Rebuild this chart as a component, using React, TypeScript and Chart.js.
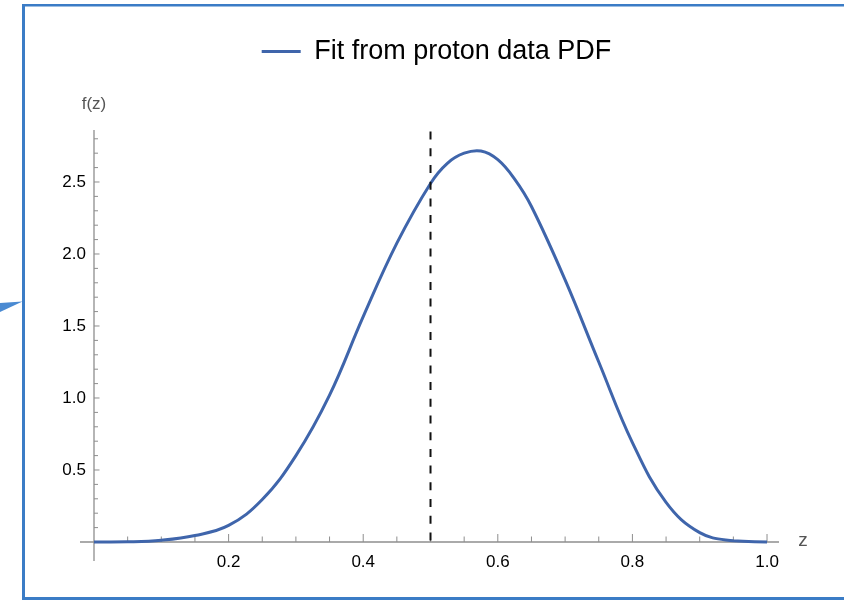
import React, { useEffect, useRef } from "react";
import { Chart, registerables } from "chart.js";

Chart.register(...registerables);

// ---- data ----
const zValues = [0, 0.05, 0.1, 0.15, 0.2, 0.25, 0.3, 0.35, 0.4, 0.45, 0.5, 0.525, 0.55, 0.575, 0.6, 0.625, 0.65, 0.7, 0.75, 0.8, 0.85, 0.9, 0.95, 1.0];
const fValues = [0, 0.001, 0.012, 0.045, 0.115, 0.295, 0.6, 1.02, 1.565, 2.075, 2.49, 2.63, 2.70, 2.715, 2.655, 2.52, 2.33, 1.82, 1.25, 0.69, 0.275, 0.065, 0.008, 0];
const markerZ = [0.5, 0.5];
const markerF = [2.85, 0];
const xTickStep = 0.2;
const xMinorStep = 0.05;
const xLastTick = 1.0;
const yTickStep = 0.5;
const yMinorStep = 0.1;
const yLastMinor = 2.8;
const xMax = 1.0178;
const yMax = 2.861;
const legendLabel = "Fit from proton data PDF";
const yAxisLabel = "f(z)";
const xAxisLabel = "z";

// ---- styles ----
const CURVE = "#3f65ab";
const FRAME = "#3b7cc6";
const AXIS = "#8e8e8e";
const FONT = "'Liberation Sans', Arial, Helvetica, sans-serif";

const isMultiple = (v: number, step: number) => Math.abs(v / step - Math.round(v / step)) < 1e-6;

const axesPlugin = {
  id: "mmaAxes",
  beforeDatasetsDraw(chart: any) {
    const { ctx } = chart;
    const xs = chart.scales.x;
    const ys = chart.scales.y;
    const x0 = xs.getPixelForValue(0);
    const y0 = ys.getPixelForValue(0);
    ctx.save();
    ctx.strokeStyle = AXIS;
    ctx.lineWidth = 1.3;
    ctx.beginPath();
    ctx.moveTo(x0 - 14, y0);
    ctx.lineTo(xs.right, y0);
    ctx.moveTo(x0, ys.top);
    ctx.lineTo(x0, y0 + 19);
    ctx.stroke();
    ctx.lineWidth = 1;
    ctx.beginPath();
    const nx = Math.round(xLastTick / xMinorStep);
    for (let i = 1; i <= nx; i++) {
      const v = i * xMinorStep;
      const major = isMultiple(v, xTickStep);
      const px = xs.getPixelForValue(v);
      ctx.moveTo(px, y0);
      ctx.lineTo(px, y0 - (major ? 8 : 5.5));
    }
    const ny = Math.round(yLastMinor / yMinorStep);
    for (let i = 1; i <= ny; i++) {
      const v = i * yMinorStep;
      const major = isMultiple(v, yTickStep);
      const py = ys.getPixelForValue(v);
      ctx.moveTo(x0, py);
      ctx.lineTo(x0 + (major ? 5.5 : 4), py);
    }
    ctx.stroke();
    ctx.fillStyle = "#555";
    ctx.font = `17px ${FONT}`;
    ctx.textAlign = "center";
    ctx.textBaseline = "middle";
    ctx.fillText(yAxisLabel, x0, ys.top - 26);
    ctx.font = `19px ${FONT}`;
    ctx.fillText(xAxisLabel, xs.right + 24, y0 - 1);
    ctx.restore();
  },
  afterDraw(chart: any) {
    const { ctx } = chart;
    ctx.save();
    ctx.fillStyle = FRAME;
    ctx.fillRect(22, 4, 830, 2.5);
    ctx.fillRect(22, 4, 3, 600);
    ctx.fillRect(22, 597, 830, 3);
    ctx.beginPath();
    ctx.moveTo(0, 303);
    ctx.lineTo(22.5, 301.5);
    ctx.lineTo(0, 312);
    ctx.closePath();
    ctx.fillStyle = "#4a8ad2";
    ctx.fill();
    ctx.restore();
  },
};

export default function App() {
  const ref = useRef<HTMLCanvasElement>(null);
  useEffect(() => {
    const curve = zValues.map((z, i) => ({ x: z, y: fValues[i] }));
    const marker = markerZ.map((z, i) => ({ x: z, y: markerF[i] }));
    const chart = new Chart(ref.current as HTMLCanvasElement, {
      type: "line",
      data: {
        datasets: [
          {
            label: legendLabel,
            data: curve,
            borderColor: CURVE,
            backgroundColor: CURVE,
            borderWidth: 3,
            pointRadius: 0,
            tension: 0.4,
            fill: false,
            clip: false as any,
            order: 1,
          },
          {
            label: "marker",
            data: marker,
            borderColor: "#111",
            backgroundColor: "#111",
            borderWidth: 2,
            borderDash: [8, 8.7],
            pointRadius: 0,
            tension: 0,
            fill: false,
            clip: false as any,
            order: 0,
          },
        ],
      },
      options: {
        responsive: false,
        devicePixelRatio: 1,
        animation: false,
        events: [],
        layout: { padding: { left: 0, right: 65, top: 28, bottom: 0 } },
        plugins: {
          tooltip: { enabled: false },
          legend: {
            position: "top",
            fullSize: false,
            labels: {
              usePointStyle: true,
              pointStyle: "line",
              pointStyleWidth: 39,
              padding: 10,
              color: "#000",
              font: { size: 27, family: FONT },
              filter: (item: any) => item.datasetIndex === 0,
            },
          },
          subtitle: {
            display: true,
            text: " ",
            position: "top",
            weight: 500,
            padding: { top: 0, bottom: 0 },
            font: { size: 55, lineHeight: 1 },
          } as any,
        },
        scales: {
          x: {
            type: "linear",
            min: 0,
            max: xMax,
            grid: { display: false, drawTicks: false },
            border: { display: false },
            afterFit: (s: any) => {
              s.height = 58;
            },
            ticks: {
              stepSize: xTickStep,
              includeBounds: false,
              autoSkip: false,
              maxRotation: 0,
              padding: 10,
              color: "#000",
              font: { size: 17, family: FONT },
              callback: (v: any) => (Number(v) === 0 ? "" : Number(v).toFixed(1)),
            },
          },
          y: {
            type: "linear",
            min: 0,
            max: yMax,
            grid: { display: false, drawTicks: false },
            border: { display: false },
            afterFit: (s: any) => {
              s.width = 94;
            },
            ticks: {
              stepSize: yTickStep,
              includeBounds: false,
              autoSkip: false,
              padding: 8,
              color: "#000",
              font: { size: 17, family: FONT },
              callback: (v: any) => (Number(v) === 0 ? "" : Number(v).toFixed(1)),
            },
          },
        },
      },
      plugins: [axesPlugin],
    });
    return () => chart.destroy();
  }, []);
  return (
    <div
      style={{
        position: "fixed",
        left: 0,
        top: 0,
        width: 844,
        height: 600,
        overflow: "hidden",
        background: "#fff",
      }}
    >
      <canvas ref={ref} width={844} height={600} style={{ display: "block", width: 844, height: 600 }} />
    </div>
  );
}
